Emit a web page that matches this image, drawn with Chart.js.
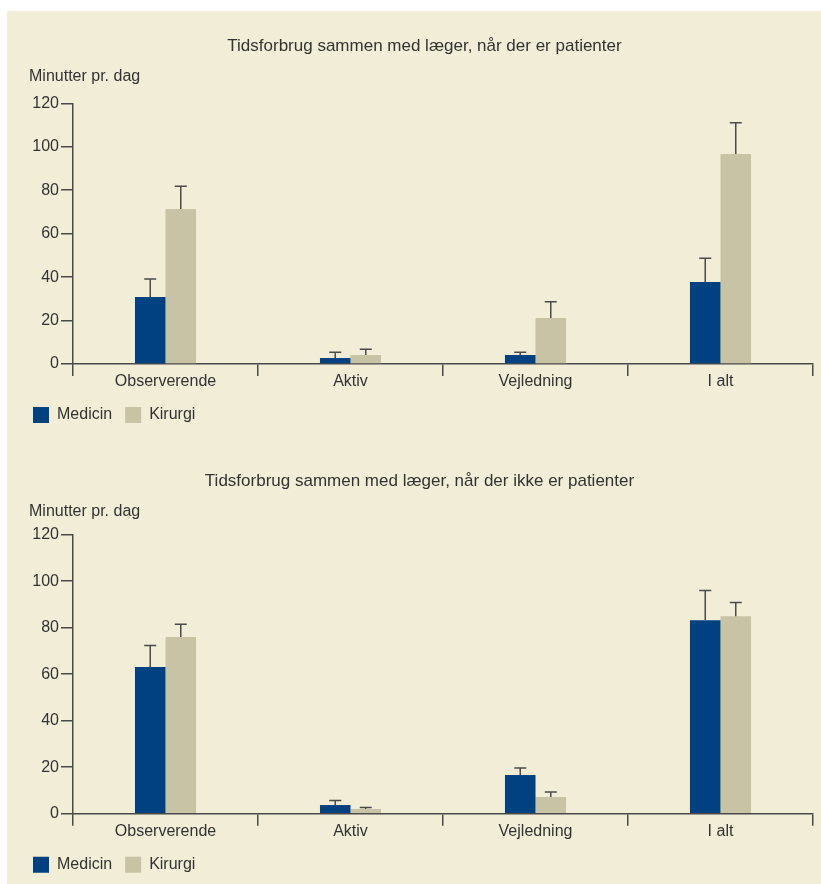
<!DOCTYPE html>
<html lang="da">
<head>
<meta charset="utf-8">
<title>Tidsforbrug sammen med læger</title>
<script src="https://cdn.jsdelivr.net/npm/chart.js@4.4.1/dist/chart.umd.min.js"></script>
<style>
  html, body { margin: 0; padding: 0; background: #ffffff; }
  #panel { position: absolute; left: 7px; top: 11px; width: 814px; height: 873px; background: #F1EDD6; }
  .box { position: absolute; left: 0; width: 814px; }
  #box1 { top: 0; height: 432px; }
  #box2 { top: 432px; height: 441px; }
</style>
</head>
<body>
<div id="panel">
  <div class="box" id="box1"><canvas id="chart1"></canvas></div>
  <div class="box" id="box2"><canvas id="chart2"></canvas></div>
</div>
<script>
// Categories and series
const categories = ['Observerende', 'Aktiv', 'Vejledning', 'I alt'];
const seriesNames = ['Medicin', 'Kirurgi'];
const unitLabel = 'Minutter pr. dag';
const yTicks = [0, 20, 40, 60, 80, 100, 120];

// Med patienter til stede
const titleWithPatients = 'Tidsforbrug sammen med læger, når der er patienter';
const medicinWith = [30.8, 2.8, 4.1, 37.8];
const medicinWithErr = [8.3, 2.6, 1.3, 10.9];
const kirurgiWith = [71.4, 4.1, 21.2, 96.7];
const kirurgiWithErr = [10.4, 2.7, 7.5, 14.4];

// Uden patienter til stede
const titleWithout = 'Tidsforbrug sammen med læger, når der ikke er patienter';
const medicinWithout = [63.1, 3.7, 16.6, 83.2];
const medicinWithoutErr = [9.2, 2.0, 3.1, 12.8];
const kirurgiWithout = [76.0, 2.0, 7.2, 84.9];
const kirurgiWithoutErr = [5.5, 0.7, 2.1, 5.9];

const FONT = '"Liberation Sans", Arial, sans-serif';
const TEXT = '#333333';
const AXIS = '#4a4a4a';
const COLORS = ['#00427F', '#C8C3A5'];

// Upper error whiskers on top of every bar
const errorBars = {
  id: 'errorBars',
  afterDatasetsDraw(chart) {
    const ctx = chart.ctx;
    const y = chart.scales.y;
    chart.data.datasets.forEach((ds, i) => {
      const meta = chart.getDatasetMeta(i);
      meta.data.forEach((bar, j) => {
        const top = y.getPixelForValue(ds.data[j] + ds.errors[j]);
        ctx.save();
        ctx.strokeStyle = AXIS;
        ctx.lineWidth = 1.5;
        ctx.beginPath();
        ctx.moveTo(bar.x, bar.y);
        ctx.lineTo(bar.x, top);
        ctx.moveTo(bar.x - 6, top);
        ctx.lineTo(bar.x + 6, top);
        ctx.stroke();
        ctx.restore();
      });
    });
  }
};

// Nudge the heading and the unit caption sideways after layout
const headingShift = {
  id: 'headingShift',
  afterLayout(chart, args, opts) {
    chart.boxes.forEach(b => {
      if (!b.options) return;
      let dx = 0;
      if (b.options.text === unitLabel) dx = opts.caption || 0;
      else if (b.options.text === chart.options.plugins.title.text) dx = opts.title || 0;
      b.left += dx;
      b.right += dx;
    });
  }
};

function makeChart(id, title, med, medErr, kir, kirErr, lay) {
  return new Chart(document.getElementById(id), {
    type: 'bar',
    data: {
      labels: categories,
      datasets: [
        { label: seriesNames[0], data: med, errors: medErr, backgroundColor: COLORS[0], borderWidth: 0 },
        { label: seriesNames[1], data: kir, errors: kirErr, backgroundColor: COLORS[1], borderWidth: 0 }
      ]
    },
    options: {
      responsive: true,
      maintainAspectRatio: false,
      animation: false,
      categoryPercentage: 0.33,
      barPercentage: 1.0,
      layout: { padding: { left: 13, right: 8, top: 0, bottom: lay.padBottom } },
      plugins: {
        headingShift: { caption: 9, title: lay.titleShift },
        title: {
          display: true, text: title, color: TEXT,
          font: { family: FONT, size: 17, weight: 'normal' },
          padding: { top: lay.titleTop, bottom: lay.titleBottom }
        },
        subtitle: {
          display: true, text: unitLabel, align: 'start', color: TEXT,
          font: { family: FONT, size: 16, weight: 'normal' },
          padding: { top: 0, bottom: lay.subBottom }
        },
        legend: {
          position: 'bottom', align: 'start',
          labels: {
            boxWidth: 16, boxHeight: 16, padding: 13, color: TEXT,
            font: { family: FONT, size: 16 }
          }
        },
        tooltip: { enabled: false }
      },
      scales: {
        x: {
          grid: { offset: true, drawOnChartArea: false, tickLength: 12, color: AXIS, lineWidth: 1.5 },
          border: { color: AXIS, width: 1.5 },
          ticks: { color: TEXT, padding: -4, font: { family: FONT, size: 16 } },
          afterFit(scale) { scale.height = 30; }
        },
        y: {
          min: yTicks[0], max: yTicks[yTicks.length - 1],
          afterBuildTicks(scale) { scale.ticks = yTicks.map(v => ({ value: v })); },
          grid: { drawOnChartArea: false, tickLength: 12, color: AXIS, lineWidth: 1.5 },
          border: { color: AXIS, width: 1.5 },
          ticks: { color: TEXT, padding: 2, font: { family: FONT, size: 16 } },
          afterFit(scale) { scale.width = 53; }
        }
      }
    },
    plugins: [errorBars, headingShift]
  });
}

makeChart('chart1', titleWithPatients, medicinWith, medicinWithErr, kirurgiWith, kirurgiWithErr,
  { titleTop: 24.8, titleBottom: 11.2, subBottom: 16.7, padBottom: 10, titleShift: 8 });
makeChart('chart2', titleWithout, medicinWithout, medicinWithoutErr, kirurgiWithout, kirurgiWithoutErr,
  { titleTop: 27.8, titleBottom: 11.2, subBottom: 13.1, padBottom: 1.3, titleShift: 3 });
</script>
</body>
</html>
